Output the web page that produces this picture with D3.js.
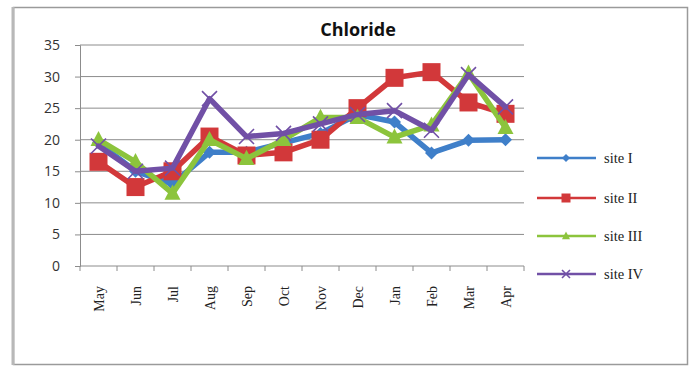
<!DOCTYPE html>
<html>
<head>
<meta charset="utf-8">
<script src="https://cdn.jsdelivr.net/npm/d3@7"></script>
<style>
  html, body { margin: 0; padding: 0; background: #fff; }
  svg { display: block; }
</style>
</head>
<body>
<svg id="chart" width="693" height="369"></svg>
<script>
// Monthly chloride readings for four sampling sites
const months = ["May", "Jun", "Jul", "Aug", "Sep", "Oct", "Nov", "Dec", "Jan", "Feb", "Mar", "Apr"];
const siteI   = [19.5, 15.0, 13.0, 18.0, 18.0, 19.5, 21.0, 24.0, 22.8, 17.9, 19.9, 20.0];
const siteII  = [16.5, 12.5, 15.0, 20.5, 17.5, 18.0, 20.0, 25.0, 29.8, 30.7, 25.9, 24.1];
const siteIII = [20.0, 16.5, 11.5, 20.0, 17.0, 20.0, 23.5, 23.5, 20.4, 22.3, 30.5, 21.9];
const siteIV  = [19.0, 15.0, 15.5, 26.5, 20.5, 21.0, 22.5, 24.0, 24.6, 21.5, 30.3, 25.2];
const yTicks  = [0, 5, 10, 15, 20, 25, 30, 35];
const seriesNames = ["site I", "site II", "site III", "site IV"];

const series = [
  { name: seriesNames[0], values: siteI,   color: "#3f7fc9", marker: "diamond" },
  { name: seriesNames[1], values: siteII,  color: "#d2383a", marker: "square" },
  { name: seriesNames[2], values: siteIII, color: "#8cc43c", marker: "triangle" },
  { name: seriesNames[3], values: siteIV,  color: "#7150a6", marker: "cross" }
];

const svg = d3.select("#chart");

// Outer chart frame
svg.append("rect")
  .attr("x", 13.5).attr("y", 7.5).attr("width", 674).attr("height", 357)
  .attr("fill", "#fff").attr("stroke", "#9a9a9a").attr("stroke-width", 1.5);
svg.append("line")
  .attr("x1", 13).attr("x2", 13).attr("y1", 7).attr("y2", 365)
  .attr("stroke", "#b8b8b8").attr("stroke-width", 3);

const plot = { left: 80, right: 524, top: 45, bottom: 266 };

const x = d3.scaleBand().domain(months).range([plot.left, plot.right]);
const y = d3.scaleLinear().domain([0, 35]).range([plot.bottom, plot.top]);

// Horizontal gridlines
svg.append("g")
  .selectAll("line")
  .data(yTicks.filter(t => t > 0))
  .join("line")
  .attr("x1", plot.left).attr("x2", plot.right)
  .attr("y1", d => y(d)).attr("y2", d => y(d))
  .attr("stroke", "#8c8c8c").attr("stroke-width", 1);

// Y axis
const yAxis = svg.append("g")
  .attr("transform", `translate(${plot.left},0)`)
  .call(d3.axisLeft(y).tickValues(yTicks).tickSize(5).tickPadding(15));
yAxis.select(".domain").attr("stroke", "#8c8c8c");
yAxis.selectAll(".tick line").attr("stroke", "#8c8c8c");
yAxis.selectAll(".tick text")
  .attr("font-family", "'Open Sans', 'Liberation Sans', sans-serif")
  .attr("font-size", 14).attr("fill", "#333");

// X axis: ticks sit between categories
const xAxisG = svg.append("g").attr("transform", `translate(0,${plot.bottom})`);
xAxisG.append("line")
  .attr("x1", plot.left).attr("x2", plot.right)
  .attr("stroke", "#8c8c8c");
xAxisG.selectAll("line.tk")
  .data(d3.range(months.length + 1))
  .join("line").attr("class", "tk")
  .attr("x1", i => plot.left + i * x.step()).attr("x2", i => plot.left + i * x.step())
  .attr("y1", 0).attr("y2", 5)
  .attr("stroke", "#8c8c8c");
xAxisG.selectAll("text")
  .data(months)
  .join("text")
  .attr("transform", d => `translate(${x(d) + x.bandwidth() / 2 + 5},20) rotate(-90)`)
  .attr("text-anchor", "end")
  .attr("font-family", "'Liberation Serif', 'DejaVu Serif', serif")
  .attr("font-size", 14).attr("fill", "#222")
  .text(d => d);

// Title
svg.append("text")
  .attr("x", 358).attr("y", 36)
  .attr("text-anchor", "middle")
  .attr("font-family", "'Open Sans', 'Liberation Sans', sans-serif")
  .attr("font-weight", "bold").attr("font-size", 18).attr("fill", "#111")
  .text("Chloride");

// Marker shapes
function marker(sel, type, color, s) {
  if (type === "diamond") {
    sel.append("path").attr("d", `M0,${-s}L${s},0L0,${s}L${-s},0Z`).attr("fill", color);
  } else if (type === "square") {
    sel.append("rect").attr("x", -s).attr("y", -s).attr("width", 2 * s).attr("height", 2 * s).attr("fill", color);
  } else if (type === "triangle") {
    sel.append("path").attr("d", `M0,${-s * 1.1}L${s},${s * 0.8}L${-s},${s * 0.8}Z`).attr("fill", color);
  } else {
    sel.append("path").attr("d", `M${-s},${-s}L${s},${s}M${-s},${s}L${s},${-s}`)
      .attr("stroke", color).attr("stroke-width", 1.6).attr("fill", "none");
  }
}
const markerSize = { diamond: 6.5, square: 9, triangle: 8, cross: 7.5 };

const line = d3.line()
  .x((d, i) => x(months[i]) + x.bandwidth() / 2)
  .y(d => y(d));

series.forEach(s => {
  const g = svg.append("g");
  g.append("path")
    .attr("d", line(s.values))
    .attr("fill", "none")
    .attr("stroke", s.color)
    .attr("stroke-width", 5.5)
    .attr("stroke-linejoin", "round")
    .attr("stroke-linecap", "round");
  s.values.forEach((v, i) => {
    const m = g.append("g")
      .attr("transform", `translate(${x(months[i]) + x.bandwidth() / 2},${y(v)})`);
    marker(m, s.marker, s.color, markerSize[s.marker]);
  });
});

// Legend
const legendY = [158, 198, 236, 274];
series.forEach((s, i) => {
  const g = svg.append("g").attr("transform", `translate(0,${legendY[i]})`);
  g.append("line").attr("x1", 537).attr("x2", 596)
    .attr("stroke", s.color).attr("stroke-width", 2.5);
  const m = g.append("g").attr("transform", "translate(566,0)");
  marker(m, s.marker, s.color, s.marker === "square" ? 4.5 : 4);
  g.append("text")
    .attr("x", 604).attr("y", 5)
    .attr("font-family", "'Liberation Serif', 'DejaVu Serif', serif")
    .attr("font-size", 14.5).attr("fill", "#222")
    .text(s.name);
});
</script>
</body>
</html>
